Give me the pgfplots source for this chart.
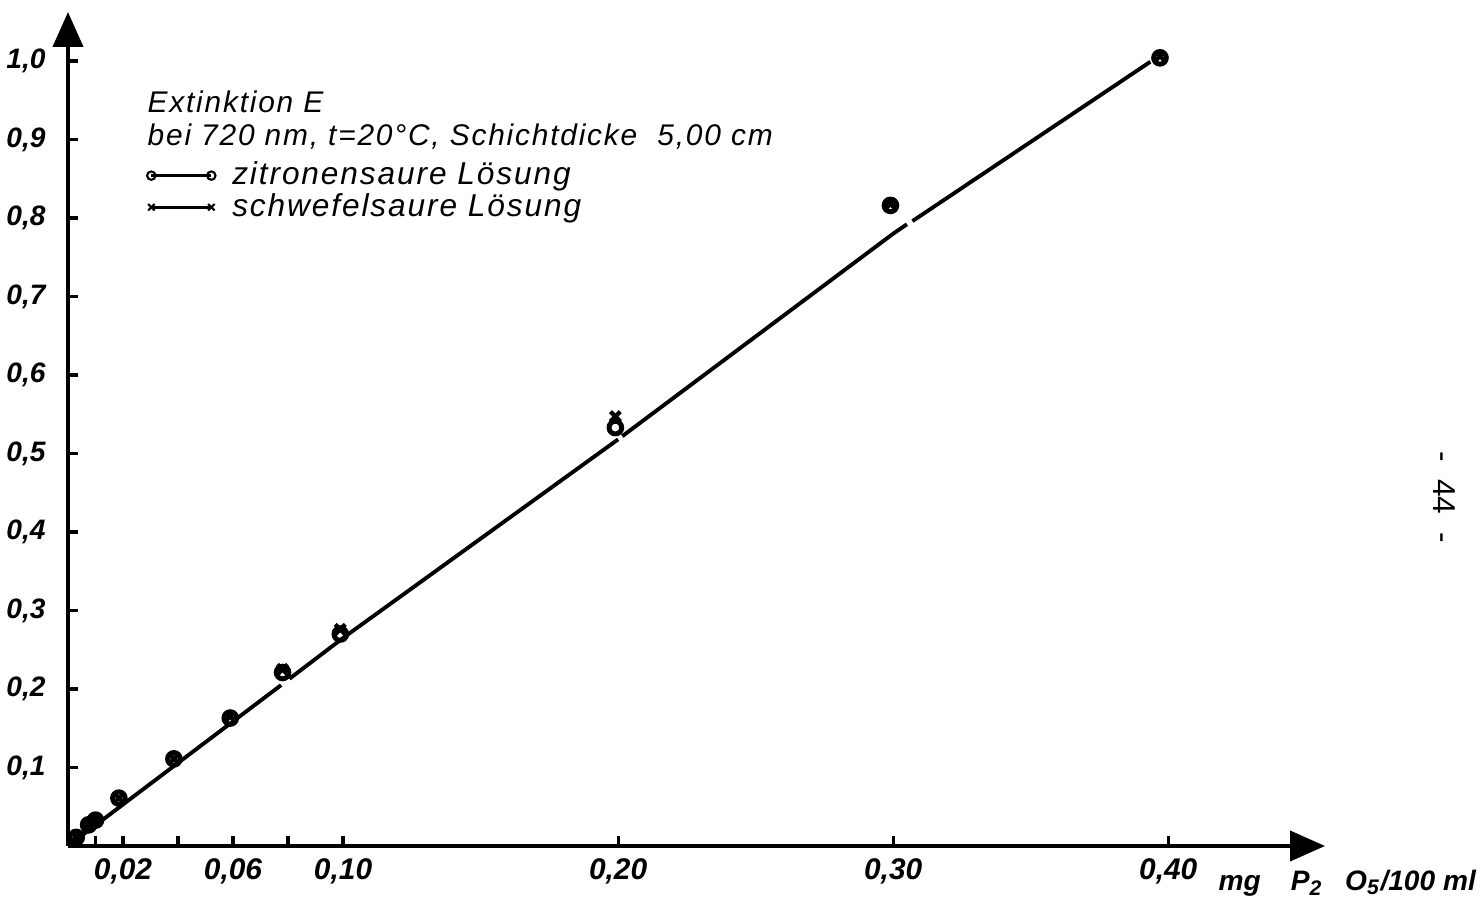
\documentclass[border=0pt]{standalone}
\usepackage{fontspec}
\setmainfont{Liberation Sans}
\newfontfamily\legfont{Liberation Sans}[LetterSpace=6]
\usepackage{pgfplots}
\pgfplotsset{compat=1.18}
\usetikzlibrary{arrows.meta}

\pgfplotstableread{
x y
0.003 0.011
0.0075 0.027
0.0100 0.033
0.0185 0.061
0.0385 0.111
0.059 0.163
0.078 0.221
0.099 0.270
0.199 0.533
0.299 0.816
0.397 1.004
}\zitron

\pgfplotstableread{
x y
0.003 0.012
0.0075 0.027
0.0100 0.034
0.0185 0.061
0.0385 0.111
0.059 0.165
0.078 0.225
0.099 0.276
0.199 0.547
0.299 0.818
0.397 1.006
}\schwefel

\begin{document}
\begin{tikzpicture}
\useasboundingbox (-0.68,-0.55) rectangle (14.14,8.46);
\begin{axis}[
  scale only axis, width=12.57cm, height=8.34cm,
  xmin=0, xmax=0.457, ymin=0, ymax=1.0624,
  axis lines=left,
  axis line style={line width=1.1pt, -{Triangle[length=0.35cm,width=0.3cm]}},
  tick style={line width=0.9pt, black},
  major tick length=0.1cm,
  tick align=inside,
  xtick={0.01,0.02,0.04,0.06,0.08,0.1,0.2,0.3,0.4},
  xticklabels={{},{0,02},{},{0,06},{},{0,10},{0,20},{0,30},{0,40}},
  ytick={0.1,0.2,0.3,0.4,0.5,0.6,0.7,0.8,0.9,1.0},
  yticklabels={{0,1},{0,2},{0,3},{0,4},{0,5},{0,6},{0,7},{0,8},{0,9},{1,0}},
  xticklabel style={font=\fontsize{8.5}{10}\selectfont\bfseries\itshape},
  yticklabel style={font=\fontsize{8}{10}\selectfont\bfseries\itshape, xshift=-0.1cm},
  clip=false,
  legend style={draw=none, fill=none, at={(axis cs:0.0285,0.875)}, anchor=north west,
    inner sep=0pt, row sep=0pt,
    font=\legfont\itshape\fontsize{9}{10}\selectfont,
    nodes={text height=6.5pt, text depth=1.5pt, inner sep=0.5pt}},
  legend cell align=left,
  legend image code/.code={\draw[#1] plot coordinates {(0cm,0cm) (0.6cm,0cm)};},
]
% fitted line (with the small gaps of the original)
\addplot[black, line width=1.1pt, forget plot] coordinates {(0.0015,0.004) (0.0775,0.205)};
\addplot[black, line width=1.1pt, forget plot] coordinates {(0.0805,0.213) (0.1,0.265) (0.2,0.518)};
\addplot[black, line width=1.1pt, forget plot] coordinates {(0.2015,0.522) (0.3,0.78) (0.305,0.792)};
\addplot[black, line width=1.1pt, forget plot] coordinates {(0.307,0.796) (0.3935,0.999)};
% data
\addplot[only marks, black, mark=o, mark size=1.8pt, mark options={line width=1.4pt}, forget plot] table[x=x,y=y] {\zitron};
\addplot[only marks, black, mark=x, mark size=2.0pt, mark options={line width=1.2pt}, forget plot] table[x=x,y=y] {\schwefel};
% legend
\addlegendimage{black, line width=0.8pt, mark=o, mark size=1.2pt, mark options={line width=0.6pt}}
\addlegendentry{\hspace{0.15cm}zitronensaure Lösung}
\addlegendimage{black, line width=0.8pt, mark=x, mark size=1.3pt, mark options={line width=0.6pt}}
\addlegendentry{\hspace{0.15cm}schwefelsaure Lösung}
\end{axis}
\node[anchor=base west, inner sep=0pt, font=\legfont\itshape\fontsize{8.5}{10}\selectfont] at (0.79,7.33) {Extinktion E};
\node[anchor=base west, inner sep=0pt, font=\legfont\itshape\fontsize{8.5}{10}\selectfont] at (0.79,7.00) {bei 720 nm, t=20°C, Schichtdicke\ \ 5,00 cm};
\node[anchor=base west, inner sep=0pt, font=\fontsize{8}{10}\selectfont\bfseries\itshape] at (11.50,-0.44) {mg\hspace{0.3cm}P\textsubscript{2}\hspace{0.22cm}O\textsubscript{5}/100 ml};
\node[rotate=-90, font=\fontsize{9}{10}\selectfont] at (13.76,3.49) {-\ \ 44\ \ -};
\end{tikzpicture}
\end{document}
